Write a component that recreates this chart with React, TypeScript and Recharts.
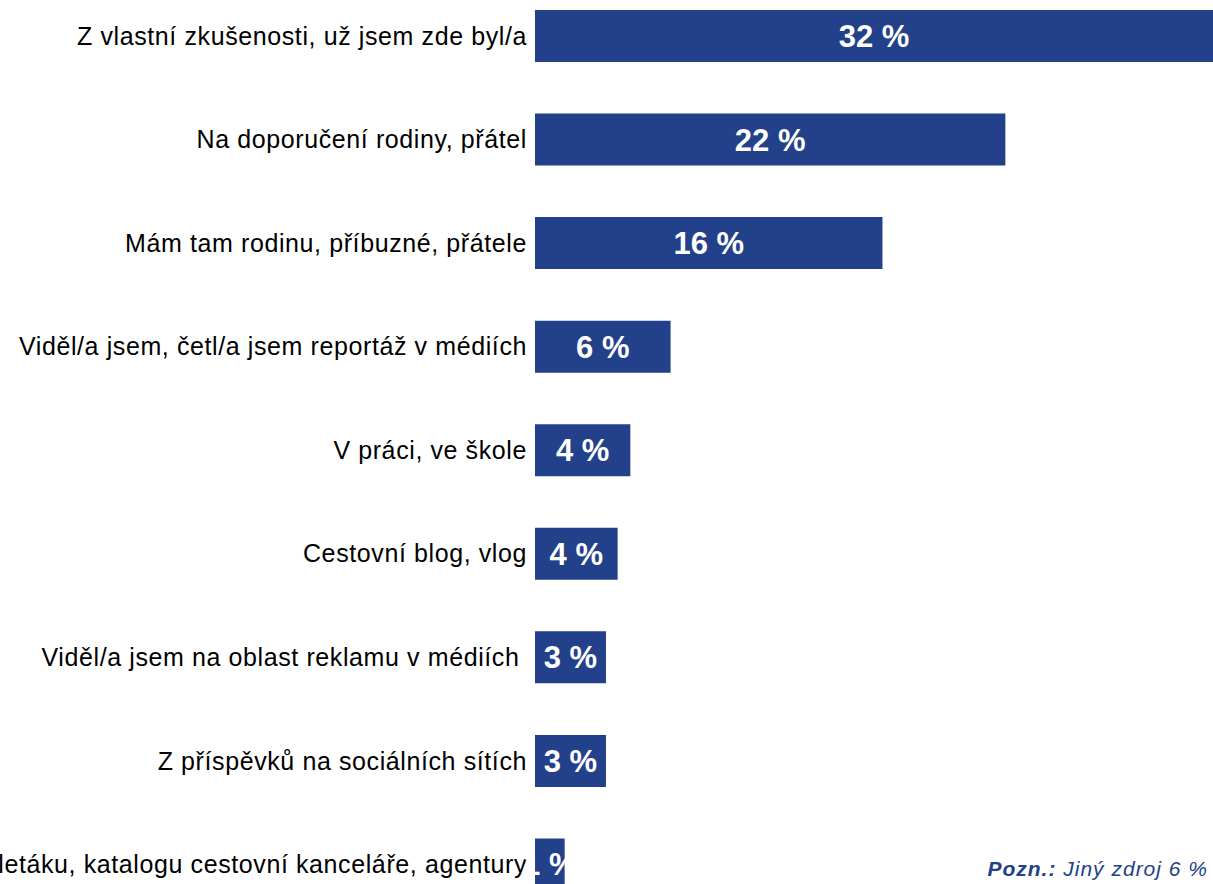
import React from "react";
import { BarChart, Bar, XAxis, YAxis, LabelList } from "recharts";

const categories = [
  "Z vlastní zkušenosti, už jsem zde byl/a",
  "Na doporučení rodiny, přátel",
  "Mám tam rodinu, příbuzné, přátele",
  "Viděl/a jsem, četl/a jsem reportáž v médiích",
  "V práci, ve škole",
  "Cestovní blog, vlog",
  "Viděl/a jsem na oblast reklamu v médiích\u00a0",
  "Z příspěvků na sociálních sítích",
  "Z letáku, katalogu cestovní kanceláře, agentury",
];
const values = [32, 22.2, 16.4, 6.4, 4.5, 3.9, 3.35, 3.35, 1.4];
const valueLabels = ["32 %", "22 %", "16 %", "6 %", "4 %", "4 %", "3 %", "3 %", "1 %"];
const xDomain: [number, number] = [0, 32];
const noteBold = "Pozn.:";
const noteText = " Jiný zdroj 6 %";

const data = categories.map((c, i) => ({ name: c, value: values[i], label: valueLabels[i] }));

const NAVY = "#22418A";

const Tick = (props: any) => {
  const { x, y, payload } = props;
  return (
    <text
      x={x}
      y={y}
      dy="0.355em"
      textAnchor="end"
      fill="#000"
      fontSize={25}
      letterSpacing={0.6}
      fontFamily="'Liberation Sans', Arial, sans-serif"
      style={{ whiteSpace: "pre" }}
    >
      {payload.value}
    </text>
  );
};

export default function App() {
  return (
    <div
      style={{
        position: "absolute",
        left: 0,
        top: 0,
        width: 1213,
        height: 884,
        overflow: "hidden",
        background: "#fff",
      }}
    >
      <div style={{ position: "absolute", left: 0, top: -16 }}>
        <BarChart
          width={1213}
          height={932}
          data={data}
          layout="vertical"
          margin={{ top: 0, right: 0, bottom: 0, left: 0 }}
        >
          <XAxis type="number" domain={xDomain} hide allowDataOverflow />
          <YAxis
            type="category"
            dataKey="name"
            width={535}
            axisLine={false}
            tickLine={false}
            interval={0}
            tick={<Tick />}
          />
          <Bar dataKey="value" fill={NAVY} barSize={52} isAnimationActive={false}>
            <LabelList
              dataKey="label"
              position="center"
              fill="#fff"
              fontSize={31}
              fontWeight="bold"
              fontFamily="'Liberation Sans', Arial, sans-serif"
            />
          </Bar>
        </BarChart>
      </div>
      <svg
        width={1213}
        height={884}
        style={{ position: "absolute", left: 0, top: 0, pointerEvents: "none" }}
      >
        <text
          x={1208}
          y={876}
          textAnchor="end"
          fill={NAVY}
          fontSize={21}
          letterSpacing={1}
          fontStyle="italic"
          fontFamily="'Liberation Sans', Arial, sans-serif"
          style={{ whiteSpace: "pre" }}
        >
          <tspan fontWeight="bold">{noteBold}</tspan>
          <tspan>{noteText}</tspan>
        </text>
      </svg>
    </div>
  );
}
